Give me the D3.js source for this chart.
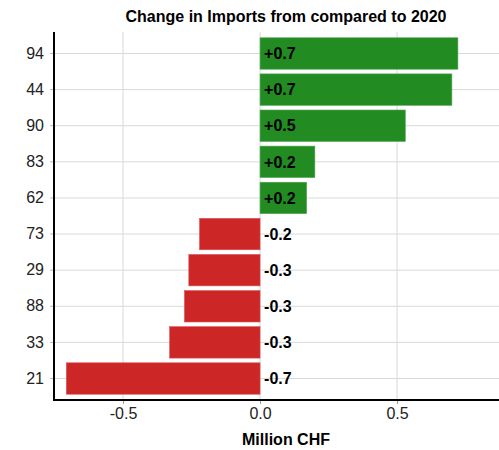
<!DOCTYPE html>
<html>
<head>
<meta charset="utf-8">
<script src="https://cdn.jsdelivr.net/npm/d3@7"></script>
<style>
  body { margin: 0; background: #fff; }
  text { font-family: "Liberation Sans", Arial, sans-serif; }
</style>
</head>
<body>
<div id="chart"></div>
<script>
const categories = ["94", "44", "90", "83", "62", "73", "29", "88", "33", "21"];
const changes = [0.722, 0.70, 0.53, 0.20, 0.17, -0.221, -0.26, -0.276, -0.33, -0.707];
const xTicks = [-0.5, 0, 0.5];

const width = 499, height = 450;
const margin = { top: 32, right: 0, bottom: 50, left: 54 };

const svg = d3.select("#chart").append("svg")
  .attr("width", width)
  .attr("height", height);

const x = d3.scaleLinear()
  .domain([-0.752, 0.872])
  .range([margin.left, width - margin.right]);

const y = d3.scaleBand()
  .domain(categories)
  .range([margin.top, height - margin.bottom])
  .paddingInner(0.13)
  .paddingOuter(0.16);

const fmt = d => d.toFixed(1);

// grid
svg.append("g").selectAll("line")
  .data(xTicks)
  .join("line")
  .attr("x1", d => x(d)).attr("x2", d => x(d))
  .attr("y1", margin.top).attr("y2", height - margin.bottom)
  .attr("stroke", "#d9d9d9").attr("stroke-width", 1);

svg.append("g").selectAll("line")
  .data(categories)
  .join("line")
  .attr("x1", margin.left).attr("x2", width - margin.right)
  .attr("y1", d => y(d) + y.bandwidth() / 2).attr("y2", d => y(d) + y.bandwidth() / 2)
  .attr("stroke", "#d9d9d9").attr("stroke-width", 1);

// bars
const rows = categories.map((c, i) => ({ cat: c, value: changes[i] }));

svg.append("g").selectAll("rect")
  .data(rows)
  .join("rect")
  .attr("x", d => x(Math.min(0, d.value)))
  .attr("y", d => y(d.cat))
  .attr("width", d => Math.abs(x(d.value) - x(0)))
  .attr("height", y.bandwidth())
  .attr("fill", d => d.value >= 0 ? "#228B22" : "#CD2626")
  .attr("stroke", d => d.value >= 0 ? "#4fa64f" : "#d95555")
  .attr("stroke-width", 0.6);

svg.append("g").selectAll("text")
  .data(rows)
  .join("text")
  .attr("x", x(0) + 4)
  .attr("y", d => y(d.cat) + y.bandwidth() / 2)
  .attr("dy", "0.36em")
  .attr("font-size", 16)
  .attr("font-weight", "bold")
  .attr("fill", "#000")
  .text(d => (d.value >= 0 ? "+" : "") + fmt(d.value));

// axes
const xAxis = svg.append("g")
  .attr("transform", `translate(0,${height - margin.bottom})`)
  .call(d3.axisBottom(x).tickValues(xTicks).tickSize(4).tickPadding(4).tickFormat(fmt));
xAxis.select(".domain").remove();
xAxis.selectAll(".tick line").attr("stroke", "#999");
xAxis.selectAll(".tick text").attr("font-size", 16).attr("fill", "#222")
  .attr("font-family", "Liberation Sans, Arial, sans-serif");

const yAxis = svg.append("g")
  .attr("transform", `translate(${margin.left},0)`)
  .call(d3.axisLeft(y).tickSize(4).tickPadding(6));
yAxis.select(".domain").remove();
yAxis.selectAll(".tick line").attr("stroke", "#bbb");
yAxis.selectAll(".tick text").attr("font-size", 16).attr("fill", "#222")
  .attr("font-family", "Liberation Sans, Arial, sans-serif");

// axis lines
svg.append("line")
  .attr("x1", margin.left).attr("x2", margin.left)
  .attr("y1", margin.top).attr("y2", height - margin.bottom + 1)
  .attr("stroke", "#000").attr("stroke-width", 2);
svg.append("line")
  .attr("x1", margin.left - 1).attr("x2", width)
  .attr("y1", height - margin.bottom).attr("y2", height - margin.bottom)
  .attr("stroke", "#000").attr("stroke-width", 2);

// titles
svg.append("text")
  .attr("x", 286).attr("y", 22)
  .attr("text-anchor", "middle")
  .attr("font-size", 16)
  .attr("font-weight", "bold")
  .text("Change in Imports from compared to 2020");

svg.append("text")
  .attr("x", 286).attr("y", 445)
  .attr("text-anchor", "middle")
  .attr("font-size", 16)
  .attr("font-weight", "bold")
  .text("Million CHF");
</script>
</body>
</html>
